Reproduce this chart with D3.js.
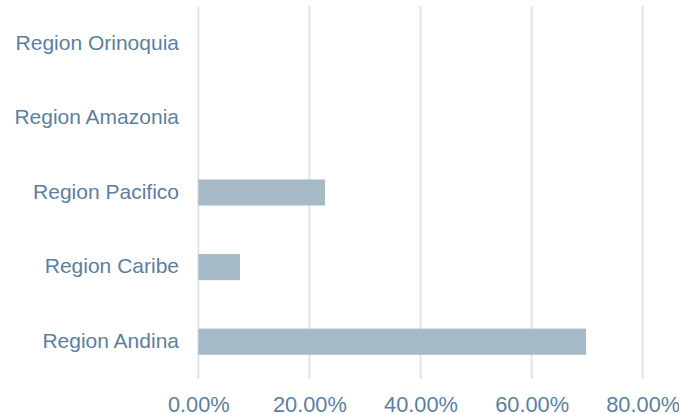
<!DOCTYPE html>
<html><head><meta charset="utf-8">
<script src="https://cdn.jsdelivr.net/npm/d3@7"></script>
<style>body{margin:0;background:#fff}</style>
</head><body><svg id="c" width="679" height="414"></svg>
<script>
const categories = ["Region Orinoquia","Region Amazonia","Region Pacifico","Region Caribe","Region Andina"];
const values = [0, 0, 0.228, 0.075, 0.698];
const xTicks = [0, 0.2, 0.4, 0.6, 0.8];

(function(){
const svg = d3.select("#c");
const mLeft = 198.3, mRight = 642.7, mTop = 6, mBottom = 379;
const x = d3.scaleLinear().domain([0, 0.8]).range([mLeft, mRight]);
const y = d3.scaleBand().domain(categories).range([mTop, mBottom]).paddingInner(0.65).paddingOuter(0.325);
const txt = "#5b7fa2", font = "Liberation Sans, Arial, sans-serif";

svg.append("g").selectAll("line").data(xTicks).join("line")
  .attr("x1", d => x(d)).attr("x2", d => x(d)).attr("y1", mTop).attr("y2", mBottom)
  .attr("stroke", "#dde5ed").attr("stroke-width", 2);

svg.append("g").selectAll("rect").data(categories.map((c,i)=>({c,v:values[i]})).filter(d=>d.v>0)).join("rect")
  .attr("x", x(0)).attr("y", d => y(d.c)).attr("width", d => x(d.v) - x(0)).attr("height", y.bandwidth())
  .attr("fill", "#a5b9c6");

const xAxis = d3.axisBottom(x).tickValues(xTicks).tickFormat(d3.format(".2%")).tickSize(0).tickPadding(0);
const gx = svg.append("g").attr("transform", `translate(0,${mBottom})`).call(xAxis);
gx.select(".domain").remove();
gx.selectAll("text").attr("fill", txt).attr("font-size", 21.8).attr("font-family", font).attr("dy", null).attr("y", 33);

const yAxis = d3.axisLeft(y).tickSize(0).tickPadding(0);
const gy = svg.append("g").attr("transform", `translate(179,0)`).call(yAxis);
gy.select(".domain").remove();
gy.selectAll("text").attr("fill", txt).attr("font-size", 21).attr("font-family", font).attr("dy", "0.3em");
})();
</script></body></html>
